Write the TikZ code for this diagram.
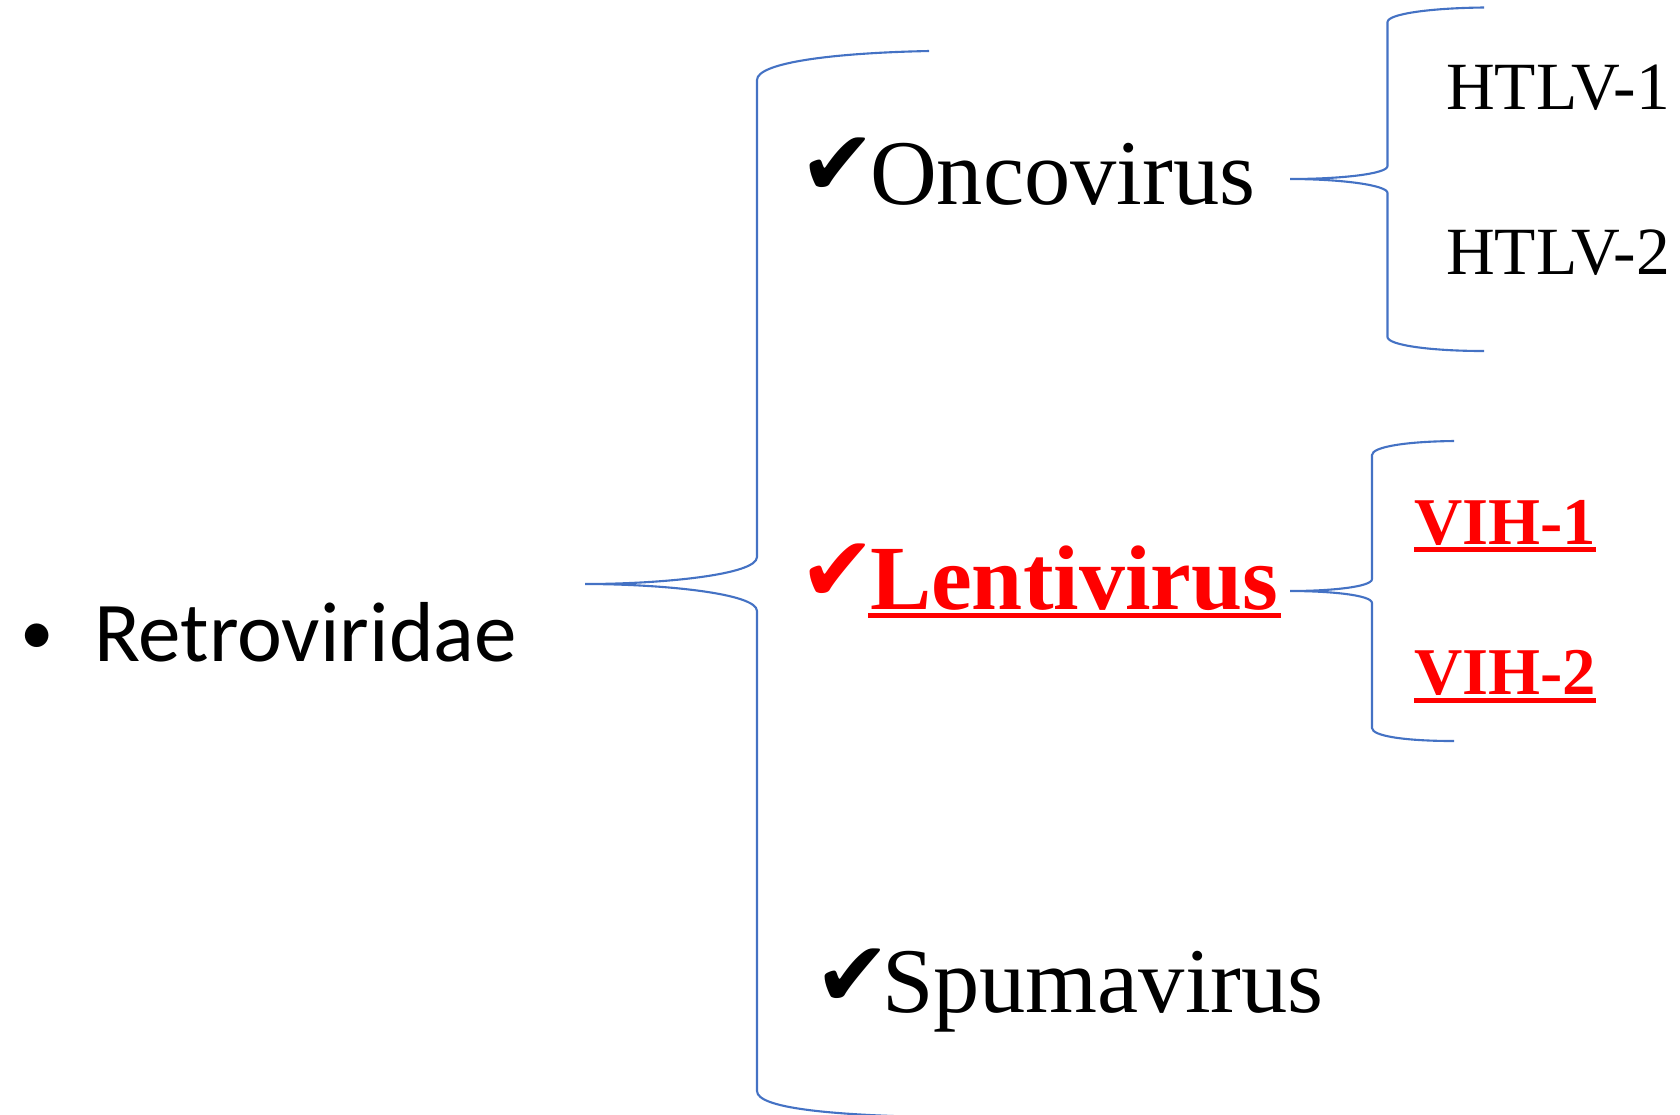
\documentclass[tikz,border=0pt]{standalone}
\usepackage{fontspec}
\setmainfont{Liberation Serif}
\newfontfamily\calib{Carlito}
\newfontfamily\djv{DejaVu Sans}
\definecolor{bracecol}{RGB}{68,114,196}
\definecolor{vred}{RGB}{255,0,0}
\begin{document}
\begin{tikzpicture}[x=0.01cm,y=-0.01cm,
  every node/.style={inner sep=0pt, outer sep=0pt, anchor=base west},
  brace/.style={draw=bracecol, line width=0.6pt},
  chk/.style={font=\djv\fontsize{26pt}{26pt}\selectfont},
  big/.style={font=\fontsize{26.3pt}{26.3pt}\selectfont},
  bigb/.style={font=\bfseries\fontsize{26.1pt}{26.1pt}\selectfont, text=vred},
  small/.style={font=\fontsize{19.2pt}{19.2pt}\selectfont},
  smallb/.style={font=\bfseries\fontsize{19pt}{19pt}\selectfont, text=vred},
  uline/.style={draw=vred, line width=1.3pt}]
\useasboundingbox (0,0) rectangle (1680,1114);

% root
\node[font=\calib\fontsize{19pt}{19pt}\selectfont] (bul) at (20,654) {•};
\node[font=\calib\fontsize{24.2pt}{24.2pt}\selectfont] (retro) at (94,661) {Retroviridae};

% main brace
\draw[brace] (929,51) .. controls (830,53) and (757,63) .. (757,80)
  -- (757,557) .. controls (757,575) and (660,584) .. (585,584)
  .. controls (660,584) and (757,593) .. (757,611)
  -- (757,1091) .. controls (757,1108) and (830,1115) .. (929,1117);

% genera
\node[chk] (c1) at (799,195) {✔};
\node[big] (onco) at (870,204) {Oncovirus};
\node[chk,text=vred] (c2) at (799,601) {✔};
\node[bigb] (lenti) at (870,609) {Lentivirus};
\draw[uline] ([xshift=-0.02cm,yshift=-0.065cm]lenti.base west) -- ([xshift=0.03cm,yshift=-0.065cm]lenti.base east);
\node[chk] (c3) at (814,1006) {✔};
\node[big] (spuma) at (882,1012) {Spumavirus};

% oncovirus brace
\draw[brace] (1484,7.5) .. controls (1430,8) and (1387.5,14) .. (1387.5,22)
  -- (1387.5,166) .. controls (1387.5,174) and (1340,179) .. (1290,179)
  .. controls (1340,179) and (1387.5,185) .. (1387.5,193)
  -- (1387.5,337) .. controls (1387.5,345) and (1430,351) .. (1484,351);
\node[small] (h1) at (1446,109) {HTLV-1};
\node[small] (h2) at (1446,274) {HTLV-2};

% lentivirus brace
\draw[brace] (1454,441) .. controls (1405,441.5) and (1372,447) .. (1372,455)
  -- (1372,579) .. controls (1372,587) and (1330,591) .. (1290,591)
  .. controls (1330,591) and (1372,595) .. (1372,603)
  -- (1372,728) .. controls (1372,736) and (1405,741) .. (1454,741);
\node[smallb] (v1) at (1414,544) {VIH-1};
\draw[uline] ([yshift=-0.055cm]v1.base west) -- ([yshift=-0.055cm]v1.base east);
\node[smallb] (v2) at (1414,694) {VIH-2};
\draw[uline] ([yshift=-0.065cm]v2.base west) -- ([yshift=-0.065cm]v2.base east);
\end{tikzpicture}
\end{document}
